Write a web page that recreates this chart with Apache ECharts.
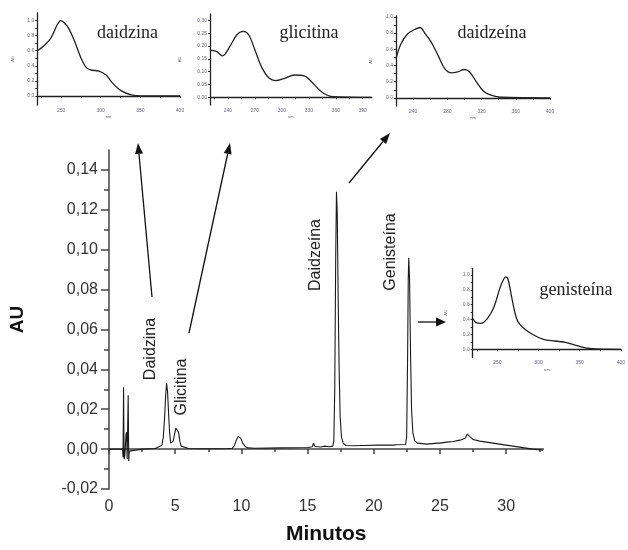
<!DOCTYPE html>
<html><head><meta charset="utf-8">
<script src="https://cdn.jsdelivr.net/npm/echarts@6/dist/echarts.min.js"></script>
<style>html,body{margin:0;padding:0;background:#fff}#c{width:628px;height:550px}</style>
</head><body><div id="c"></div>
<script>
// ---- main chromatogram ----
const timeMin = [0,1.02,1.06,1.1,1.14,1.2,1.28,1.33,1.37,1.42,1.45,1.49,1.53,1.6,2.5,3.5,3.6,3.8,
  3.9,4.0,4.1,4.2,4.28,4.35,4.42,4.5,4.58,4.66,4.75,4.85,4.95,5.05,5.15,5.25,5.35,5.45,5.6,
  6,7,8,9,9.3,9.45,9.6,9.75,9.85,9.95,10.1,10.3,10.5,11,12,13,14,15,15.35,15.45,15.55,15.7,16,16.3,16.45,16.6,16.9,
  16.98,17.05,17.12,17.18,17.24,17.3,17.38,17.46,17.56,17.7,17.9,18.5,19,19.1,19.2,20.3,20.4,20.5,21.5,21.6,21.7,
  22.4,22.48,22.55,22.6,22.64,22.7,22.77,22.85,22.95,23.1,23.3,24,24.8,24.9,25,25.5,26,26.5,26.9,27.05,27.15,27.3,27.5,
  28,29,30,31,32,32.8];
const absAU = [0,0,-0.004,0.031,-0.005,-0.003,0.007,0.0085,-0.005,-0.004,0.027,-0.006,-0.001,0,0,0.0003,0.0012,0.0013,
  0.0012,0.002,0.006,0.016,0.027,0.033,0.029,0.018,0.008,0.003,0.0022,0.004,0.0075,0.0105,0.011,0.0085,0.004,0.0015,0.0006,
  0.0003,0.0002,0.0002,0.0003,0.0004,0.0015,0.0042,0.0064,0.0066,0.0055,0.003,0.0012,0.0006,0.0004,0.0005,0.0006,0.0007,0.0008,0.0012,0.003,0.0013,0.0011,0.0011,0.0015,0.0012,0.0012,0.0015,
  0.004,0.03,0.095,0.129,0.118,0.08,0.04,0.016,0.006,0.0028,0.0018,0.0017,0.0018,0.0026,0.0018,0.002,0.0028,0.002,0.002,0.003,0.0022,
  0.0023,0.006,0.045,0.085,0.096,0.085,0.05,0.02,0.008,0.004,0.003,0.0025,0.003,0.0038,0.003,0.0035,0.0038,0.0045,0.0055,0.0075,0.0085,0.006,0.0048,
  0.004,0.003,0.002,0.001,0.0,-0.0006];
const xTicksMain = [0,5,10,15,20,25,30];
const xMinorMain = [2.5,7.5,12.5,17.5,22.5,27.5,32.5];
const yTicksMain = [-0.02,0,0.02,0.04,0.06,0.08,0.10,0.12,0.14];
const yMinorMain = [-0.01,0.01,0.03,0.05,0.07,0.09,0.11,0.13];
const peakNames = ['Daidzina','Glicitina','Daidzeína','Genisteína'];

// ---- UV spectra insets ----
const daidzinaNm = [220,227.4,236,240.2,244.4,248,249.5,253,259.4,268,274.4,280.8,287,297.8,306.4,315,325.6,338.5,351.3,400];
const daidzinaAU = [0.60,0.655,0.75,0.83,0.93,0.99,1.0,0.98,0.90,0.70,0.52,0.39,0.345,0.33,0.28,0.17,0.07,0.013,0.0,0.0];
const glicitinaNm = [220,227,234,242,250,257,263,270,278,286,293,303,314,325,333,344,356,400];
const glicitinaAU = [0.183,0.179,0.162,0.198,0.244,0.257,0.244,0.185,0.114,0.074,0.065,0.074,0.087,0.084,0.061,0.022,0.003,0];
const daidzeinaNm = [220,226,234,242,248,254,261,269,277,285,292,300,306,314,322,331,343,400];
const daidzeinaAU = [0.486,0.67,0.794,0.844,0.868,0.794,0.69,0.527,0.362,0.309,0.321,0.35,0.32,0.198,0.086,0.033,0.008,0];
const genisteinaNm = [220,224,230,238,246,252.9,257,260,263,268,274,282,294,306,320,334,348,362,400];
const genisteinaAU = [0.417,0.359,0.35,0.417,0.574,0.82,0.93,0.975,0.94,0.664,0.395,0.283,0.193,0.135,0.112,0.09,0.045,0.013,0];
const insetTitles = ['daidzina','glicitina','daidzeína','genisteína'];

const zip = (a,b) => a.map((v,i)=>[v,b[i]]);
const sans = '"Liberation Sans", Arial, sans-serif';
const serif = '"Liberation Serif", "Times New Roman", serif';
const ink = '#1a1a1a';
const fmtC = v => v.toFixed(2).replace('.', ',');

const insets = [
  {g:{left:37.3, top:13, width:142.7, height:92}, ymin:-0.12, ymax:1.10,
   xt:[225,250,275,300,325,350,375,400], xl:[250,300,350,400],
   yt:[0,0.1,0.2,0.3,0.4,0.5,0.6,0.7,0.8,0.9,1.0], yl:[0,0.2,0.4,0.6,0.8,1.0], dec:1, nmx:daidzinaNm, au:daidzinaAU, gap:22},
  {g:{left:210, top:14, width:161.7, height:91}, ymin:-0.03, ymax:0.325,
   xt:[225,240,255,270,285,300,315,330,345,360,375,390], xl:[240,270,300,330,360,390],
   yt:[0,0.05,0.10,0.15,0.20,0.25,0.30], yl:[0,0.05,0.10,0.15,0.20,0.25,0.30], dec:2, nmx:glicitinaNm, au:glicitinaAU, gap:28},
  {g:{left:396, top:16, width:154, height:90}, ymin:-0.10, ymax:1.01,
   xt:[220,240,260,280,300,320,340,360,380,400], xl:[240,280,320,360,400],
   yt:[0,0.1,0.2,0.3,0.4,0.5,0.6,0.7,0.8,0.9,1.0], yl:[0,0.2,0.4,0.6,0.8,1.0], dec:1, nmx:daidzeinaNm, au:daidzeinaAU, gap:23},
  {g:{left:472.7, top:268.3, width:150.6, height:89.2}, ymin:-0.11, ymax:1.09,
   xt:[225,250,275,300,325,350,375,400], xl:[250,300,350,400],
   yt:[0,0.1,0.2,0.3,0.4,0.5,0.6,0.7,0.8,0.9,1.0], yl:[0,0.2,0.4,0.6,0.8,1.0], dec:1, nmx:genisteinaNm, au:genisteinaAU, gap:25}
];

const grids = [{left:106, top:150, width:437.3, height:342}];
const xAxes = [
  {gridIndex:0, type:'value', min:0, max:32.8, position:'bottom',
   name:'Minutos', nameLocation:'middle', nameGap:35,
   nameTextStyle:{fontFamily:sans, fontWeight:'bold', fontSize:21, color:'#111'},
   axisLine:{lineStyle:{color:'#444', width:1.5}}, splitLine:{show:false},
   axisTick:{customValues:xTicksMain, length:5, lineStyle:{color:'#444', width:1.5}},
   axisLabel:{customValues:xTicksMain, margin:10, fontFamily:sans, fontSize:16, color:'#333'}},
  {gridIndex:0, type:'value', min:0, max:32.8, position:'bottom', offset:0,
   axisLine:{show:false}, splitLine:{show:false}, axisLabel:{show:false},
   axisTick:{customValues:xMinorMain, length:3, lineStyle:{color:'#444', width:1.5}}}
];
const yAxes = [
  {gridIndex:0, type:'value', min:-0.02, max:0.15, position:'left',
   name:'AU', nameLocation:'middle', nameGap:82, nameRotate:90,
   nameTextStyle:{fontFamily:sans, fontWeight:'bold', fontSize:19, color:'#111'},
   axisLine:{show:true, lineStyle:{color:'#444', width:1.5}}, splitLine:{show:false},
   axisTick:{show:true, customValues:yTicksMain, length:8, lineStyle:{color:'#444', width:1.5}},
   axisLabel:{customValues:yTicksMain, margin:11, fontFamily:sans, fontSize:16, color:'#333', formatter:fmtC}},
  {gridIndex:0, type:'value', min:-0.02, max:0.15, position:'left', offset:0,
   axisLine:{show:false}, splitLine:{show:false}, axisLabel:{show:false},
   axisTick:{show:true, customValues:yMinorMain, length:5, lineStyle:{color:'#444', width:1.5}}}
];
const series = [{type:'line', xAxisIndex:0, yAxisIndex:0, data:zip(timeMin, absAU), showSymbol:false, symbol:'none',
  lineStyle:{color:ink, width:1.1}, z:5}];

insets.forEach((s,i)=>{
  const gi = i+1;
  grids.push(s.g);
  const axIdx = xAxes.length;
  xAxes.push({gridIndex:gi, type:'value', min:220, max:400,
    name:'nm', nameLocation:'middle', nameGap:10, nameTextStyle:{fontSize:4, color:'#666', fontFamily:sans},
    axisLine:{lineStyle:{color:'#222', width:1.3}}, splitLine:{show:false},
    axisTick:{customValues:s.xt, length:2, lineStyle:{color:'#222', width:1}},
    axisLabel:{customValues:s.xl, margin:3, fontSize:5, color:'#667', fontFamily:sans}});
  yAxes.push({gridIndex:gi, type:'value', min:s.ymin, max:s.ymax,
    name:'AU', nameLocation:'middle', nameRotate:90, nameGap:s.gap, nameTextStyle:{fontSize:4, color:'#666', fontFamily:sans},
    axisLine:{show:true, lineStyle:{color:'#222', width:1.3}}, splitLine:{show:false},
    axisTick:{show:true, customValues:s.yt, length:2, lineStyle:{color:'#222', width:1}},
    axisLabel:{customValues:s.yl, margin:3, fontSize:5, color:'#667', fontFamily:sans, formatter:v=>v.toFixed(s.dec)}});
  series.push({type:'line', xAxisIndex:axIdx, yAxisIndex:axIdx, data:zip(s.nmx, s.au), showSymbol:false, symbol:'none',
    smooth:0.35, lineStyle:{color:'#222', width:1.3}});
});

function arrow(x1,y1,x2,y2,L,W){
  const a = Math.atan2(y2-y1, x2-x1);
  const bx = x2 - L*Math.cos(a), by = y2 - L*Math.sin(a);
  const px = -Math.sin(a)*W, py = Math.cos(a)*W;
  return [
    {type:'line', shape:{x1:x1,y1:y1,x2:bx,y2:by}, style:{stroke:'#111', lineWidth:1.3}},
    {type:'polygon', shape:{points:[[x2,y2],[bx+px,by+py],[bx-px,by-py]]}, style:{fill:'#111'}}
  ];
}
function vtext(t,x,y){
  return {type:'text', x:x, y:y, rotation:Math.PI/2,
    style:{text:t, font:'16px '+sans, fill:'#222', align:'center', verticalAlign:'middle', textAlign:'center', textVerticalAlign:'middle'}};
}
function stext(t,x,y){
  return {type:'text', x:x, y:y,
    style:{text:t, font:'18px '+serif, fill:'#222', align:'center', verticalAlign:'middle', textAlign:'center', textVerticalAlign:'middle'}};
}
const graphic = [].concat(
  arrow(152,297,138,143,11,4),
  arrow(189,333,230,143,11,4),
  arrow(349,183,390,133,11,4),
  arrow(418,322,446,322,10,4.5),
  [vtext(peakNames[0],151,349), vtext(peakNames[1],182,387), vtext(peakNames[2],316,255), vtext(peakNames[3],391,252),
   stext(insetTitles[0],127.5,33), stext(insetTitles[1],309,33), stext(insetTitles[2],492,33), stext(insetTitles[3],576,290)]
);

const chart = echarts.init(document.getElementById('c'), null, {renderer:'canvas'});
chart.setOption({animation:false, backgroundColor:'#fff', grid:grids, xAxis:xAxes, yAxis:yAxes, series:series, graphic:graphic});
</script></body></html>
